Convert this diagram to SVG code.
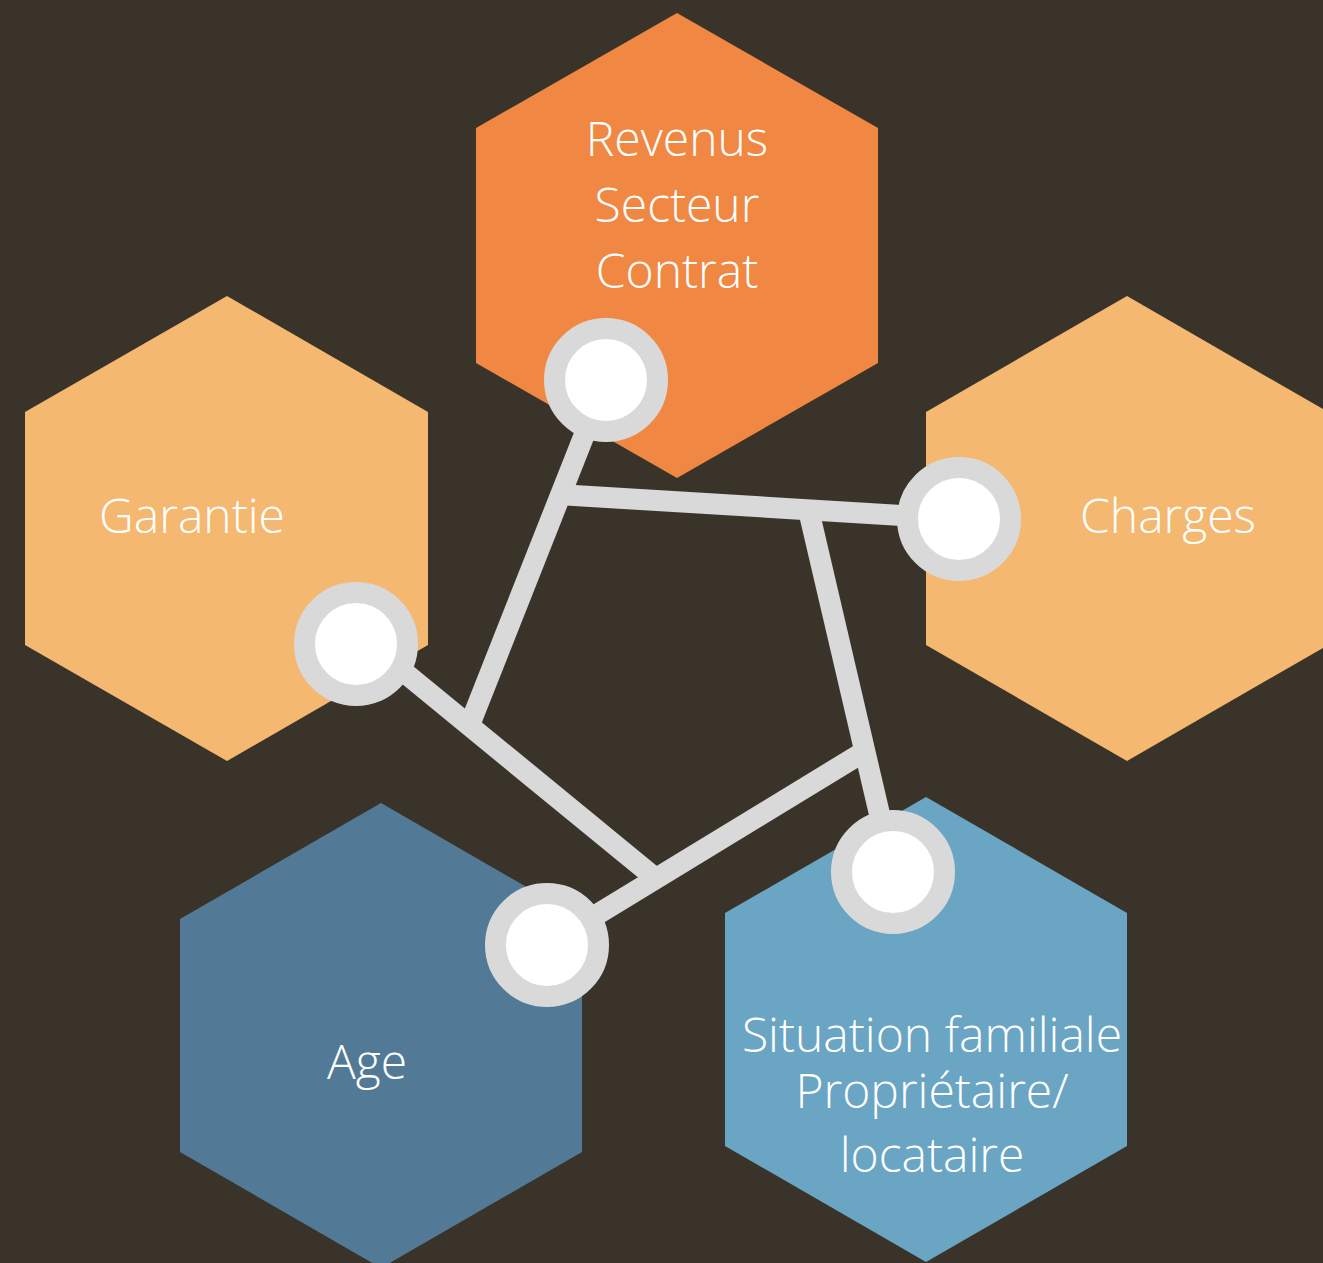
<svg xmlns="http://www.w3.org/2000/svg" width="1323" height="1263" viewBox="0 0 1323 1263">
<style>
.t{font-family:"Open Sans","Liberation Sans",sans-serif;font-weight:300;font-size:48px;fill:#ffffff;text-anchor:middle}
.ln{stroke:#d9d9d9;stroke-width:21;fill:none;stroke-linecap:butt}
.ring{fill:#ffffff;stroke:#d9d9d9;stroke-width:21}
</style>
<rect width="1323" height="1263" fill="#3a332a"/>
<g id="node-revenus">
<polygon points="677,13 878,128 878,363 677,478 476,363 476,128" fill="#f08843"/>
<text class="t" x="677" y="156">Revenus</text>
<text class="t" x="677" y="222">Secteur</text>
<text class="t" x="677" y="288">Contrat</text>
</g>
<g id="node-garantie">
<polygon points="227,296 428,412 428,645 227,761 25,645 25,412" fill="#f4b870"/>
<text class="t" x="192" y="533">Garantie</text>
</g>
<g id="node-charges">
<polygon points="1127,296 1328,412 1328,645 1127,761 926,645 926,412" fill="#f4b870"/>
<text class="t" x="1168" y="533">Charges</text>
</g>
<g id="node-age">
<polygon points="381,803 582,919 582,1152 381,1268 180,1152 180,919" fill="#527a97"/>
<text class="t" x="367" y="1079">Age</text>
</g>
<g id="node-situation">
<polygon points="926,797 1127,913 1127,1146 926,1262 725,1146 725,913" fill="#6ba5c4"/>
<text class="t" x="932" y="1052">Situation familiale</text>
<text class="t" x="932" y="1108">Propriétaire/</text>
<text class="t" x="932" y="1172">locataire</text>
</g>
<g id="connectors">
<line class="ln" x1="606" y1="380" x2="470" y2="724"/>
<line class="ln" x1="566" y1="495" x2="959" y2="519"/>
<line class="ln" x1="809" y1="512" x2="893" y2="872"/>
<line class="ln" x1="360" y1="636" x2="654" y2="877"/>
<line class="ln" x1="547" y1="945" x2="862" y2="753"/>
<circle class="ring" cx="606" cy="380" r="51.5"/>
<circle class="ring" cx="959" cy="519" r="51.5"/>
<circle class="ring" cx="356" cy="644" r="51.5"/>
<circle class="ring" cx="547" cy="945" r="51.5"/>
<circle class="ring" cx="893" cy="872" r="51.5"/>
</g>
</svg>
